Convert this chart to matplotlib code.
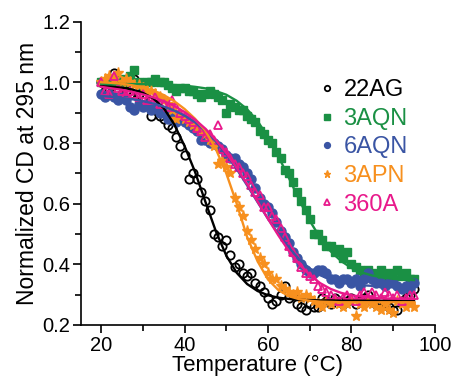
import matplotlib
matplotlib.use("Agg")
import matplotlib.pyplot as plt
from matplotlib.ticker import MultipleLocator

plt.rcParams["font.family"] = ["Liberation Sans", "DejaVu Sans"]

# measured points, 1 degree steps
temps = list(range(20, 96))

cd_22ag = [1.00, 0.97, 0.98, 1.03, 0.97, 0.96, 0.97, 0.96, 1.01, 0.96,
           0.95, 0.93, 0.89, 0.91, 0.89, 0.88, 0.86, 0.85, 0.82, 0.79,
           0.76, 0.68, 0.70, 0.68, 0.64, 0.61, 0.58, 0.50, 0.49, 0.46,
           0.48, 0.43, 0.39, 0.40, 0.37, 0.36, 0.37, 0.34, 0.33, 0.31,
           0.29, 0.27, 0.28, 0.30, 0.33, 0.29, 0.30, 0.27, 0.26, 0.25,
           0.27, 0.26, 0.26, 0.29, 0.28, 0.27, 0.29, 0.28, 0.27, 0.28,
           0.29, 0.27, 0.28, 0.29, 0.30, 0.28, 0.27, 0.28, 0.27, 0.26,
           0.25, 0.25, 0.28, 0.29, 0.30, 0.32]
cd_3aqn = [1.00, 1.00, 1.01, 0.99, 1.00, 1.01, 1.00, 1.02, 1.04, 1.00,
           0.99, 1.00, 1.00, 1.01, 1.00, 1.00, 0.99, 0.98, 0.97, 0.98,
           0.98, 0.97, 0.97, 0.96, 0.95, 0.96, 0.97, 0.96, 0.95, 0.94,
           0.90, 0.93, 0.92, 0.91, 0.91, 0.89, 0.88, 0.87, 0.84, 0.83,
           0.81, 0.80, 0.77, 0.75, 0.71, 0.70, 0.67, 0.64, 0.61, 0.58,
           0.55, 0.50, 0.50, 0.48, 0.46, 0.46, 0.44, 0.45, 0.42, 0.44,
           0.40, 0.39, 0.38, 0.37, 0.38, 0.37, 0.36, 0.38, 0.36, 0.37,
           0.35, 0.38, 0.36, 0.37, 0.35, 0.35]
cd_6aqn = [0.96, 0.95, 0.96, 0.95, 0.94, 0.95, 0.94, 0.92, 0.91, 0.93,
           0.92, 0.93, 0.91, 0.92, 0.90, 0.90, 0.88, 0.90, 0.87, 0.88,
           0.87, 0.86, 0.85, 0.84, 0.81, 0.81, 0.80, 0.80, 0.79, 0.78,
           0.76, 0.75, 0.75, 0.73, 0.72, 0.70, 0.68, 0.65, 0.62, 0.60,
           0.59, 0.57, 0.54, 0.51, 0.49, 0.47, 0.44, 0.42, 0.40, 0.38,
           0.37, 0.37, 0.38, 0.38, 0.37, 0.35, 0.35, 0.34, 0.35, 0.35,
           0.34, 0.35, 0.33, 0.35, 0.37, 0.35, 0.34, 0.34, 0.33, 0.34,
           0.34, 0.33, 0.32, 0.33, 0.32, 0.34]
cd_3apn = [1.00, 1.01, 1.02, 1.01, 1.03, 1.00, 1.01, 1.00, 0.99, 0.99,
           0.98, 0.97, 0.97, 0.96, 0.95, 0.94, 0.93, 0.91, 0.88, 0.89,
           0.88, 0.87, 0.86, 0.85, 0.84, 0.83, 0.81, 0.79, 0.73, 0.74,
           0.72, 0.70, 0.62, 0.59, 0.56, 0.51, 0.48, 0.45, 0.42, 0.40,
           0.37, 0.35, 0.35, 0.33, 0.32, 0.31, 0.30, 0.31, 0.29, 0.30,
           0.29, 0.28, 0.27, 0.26, 0.28, 0.27, 0.28, 0.27, 0.26, 0.27,
           0.28, 0.23, 0.27, 0.26, 0.28, 0.27, 0.26, 0.25, 0.27, 0.25,
           0.24, 0.28, 0.27, 0.26, 0.27, 0.26]
cd_360a = [1.00, 0.97, 0.96, 1.02, 0.98, 0.97, 0.96, 0.97, 0.96, 0.95,
           0.96, 0.94, 0.94, 0.95, 0.93, 0.93, 0.92, 0.94, 0.92, 0.90,
           0.89, 0.88, 0.87, 0.85, 0.84, 0.82, 0.83, 0.81, 0.86, 0.78,
           0.77, 0.75, 0.73, 0.72, 0.70, 0.69, 0.66, 0.64, 0.63, 0.59,
           0.59, 0.56, 0.55, 0.52, 0.49, 0.46, 0.44, 0.42, 0.39, 0.37,
           0.36, 0.35, 0.33, 0.32, 0.31, 0.30, 0.29, 0.28, 0.29, 0.30,
           0.29, 0.28, 0.30, 0.31, 0.29, 0.31, 0.30, 0.29, 0.31, 0.30,
           0.29, 0.30, 0.28, 0.29, 0.30, 0.30]

# fitted curves, 2.5 degree steps
fit_temps = [20, 22.5, 25, 27.5, 30, 32.5, 35, 37.5, 40, 42.5, 45, 47.5,
             50, 52.5, 55, 57.5, 60, 62.5, 65, 67.5, 70, 72.5, 75, 77.5,
             80, 82.5, 85, 87.5, 90, 92.5, 95]
fit_22ag = [0.987, 0.985, 0.982, 0.976, 0.965, 0.947, 0.915, 0.862, 0.790,
            0.705, 0.606, 0.509, 0.429, 0.372, 0.335, 0.312, 0.298, 0.290,
            0.286, 0.283, 0.282, 0.281, 0.281, 0.280, 0.280, 0.280, 0.280,
            0.280, 0.280, 0.280, 0.280]
fit_3aqn = [0.995, 0.995, 0.994, 0.994, 0.994, 0.993, 0.992, 0.991, 0.989,
            0.985, 0.980, 0.971, 0.959, 0.939, 0.911, 0.872, 0.820, 0.756,
            0.685, 0.612, 0.544, 0.487, 0.443, 0.411, 0.388, 0.373, 0.363,
            0.357, 0.352, 0.350, 0.348]
fit_6aqn = [0.955, 0.952, 0.948, 0.944, 0.938, 0.930, 0.920, 0.907, 0.890,
            0.868, 0.840, 0.805, 0.763, 0.714, 0.660, 0.605, 0.550, 0.500,
            0.455, 0.416, 0.386, 0.364, 0.350, 0.341, 0.335, 0.331, 0.329,
            0.327, 0.326, 0.325, 0.325]
fit_3apn = [1.000, 0.998, 0.995, 0.990, 0.983, 0.973, 0.958, 0.938, 0.912,
            0.880, 0.840, 0.780, 0.700, 0.600, 0.490, 0.410, 0.350, 0.315,
            0.295, 0.285, 0.280, 0.277, 0.276, 0.275, 0.275, 0.275, 0.275,
            0.275, 0.275, 0.275, 0.275]
fit_360a = [0.985, 0.980, 0.975, 0.968, 0.960, 0.950, 0.938, 0.922, 0.902,
            0.877, 0.847, 0.810, 0.767, 0.718, 0.664, 0.607, 0.550, 0.495,
            0.444, 0.400, 0.365, 0.338, 0.319, 0.306, 0.298, 0.293, 0.290,
            0.288, 0.287, 0.286, 0.286]

labels = ["22AG", "3AQN", "6AQN", "3APN", "360A"]
colors = ["#000000", "#1a9044", "#3a55a4", "#f7901e", "#e8198b"]

fig = plt.figure(figsize=(4.53, 3.79), dpi=100)
ax = fig.add_axes([0.179, 0.1425, 0.781, 0.8005])

series = [
    (cd_22ag, fit_22ag, dict(marker="o", mfc="none", ms=6, mew=1.3)),
    (cd_3aqn, fit_3aqn, dict(marker="s", ms=6)),
    (cd_6aqn, fit_6aqn, dict(marker="o", ms=6.5)),
    (cd_3apn, fit_3apn, dict(marker="*", ms=8)),
    (cd_360a, fit_360a, dict(marker="^", mfc="none", ms=6, mew=1.3)),
]

handles = []
for (pts, fit, style), lab, col in zip(series, labels, colors):
    h, = ax.plot(temps, pts, ls="none", color=col, zorder=2, **style)
    ax.plot(fit_temps, fit, color=col, lw=1.7, zorder=3)
    handles.append(h)

leg = ax.legend(handles, labels, loc="upper left", bbox_to_anchor=(0.678, 0.81),
                frameon=False, fontsize=17, handlelength=0.5, handletextpad=0.45,
                labelspacing=0.28, markerscale=0.65, borderaxespad=0,
                borderpad=0)
for txt, col in zip(leg.get_texts(), colors):
    txt.set_color(col)

ax.set_xlim(15.2, 100)
ax.set_ylim(0.2, 1.2)
ax.xaxis.set_major_locator(MultipleLocator(20))
ax.xaxis.set_minor_locator(MultipleLocator(10))
ax.yaxis.set_major_locator(MultipleLocator(0.2))
ax.yaxis.set_minor_locator(MultipleLocator(0.1))
ax.yaxis.set_major_formatter(plt.FormatStrFormatter("%.1f"))
ax.tick_params(which="major", direction="out", length=6, width=1.2,
               labelsize=14.5, pad=2)
ax.tick_params(which="minor", direction="out", length=4, width=1.2)
for side in ["top", "right"]:
    ax.spines[side].set_visible(False)
for side in ["left", "bottom"]:
    ax.spines[side].set_linewidth(1.2)

ax.set_xlabel("Temperature (°C)", fontsize=16, labelpad=0)
ax.set_ylabel("Normalized CD at 295 nm", fontsize=16.5, labelpad=2)

fig.savefig("out.png", dpi=100)
